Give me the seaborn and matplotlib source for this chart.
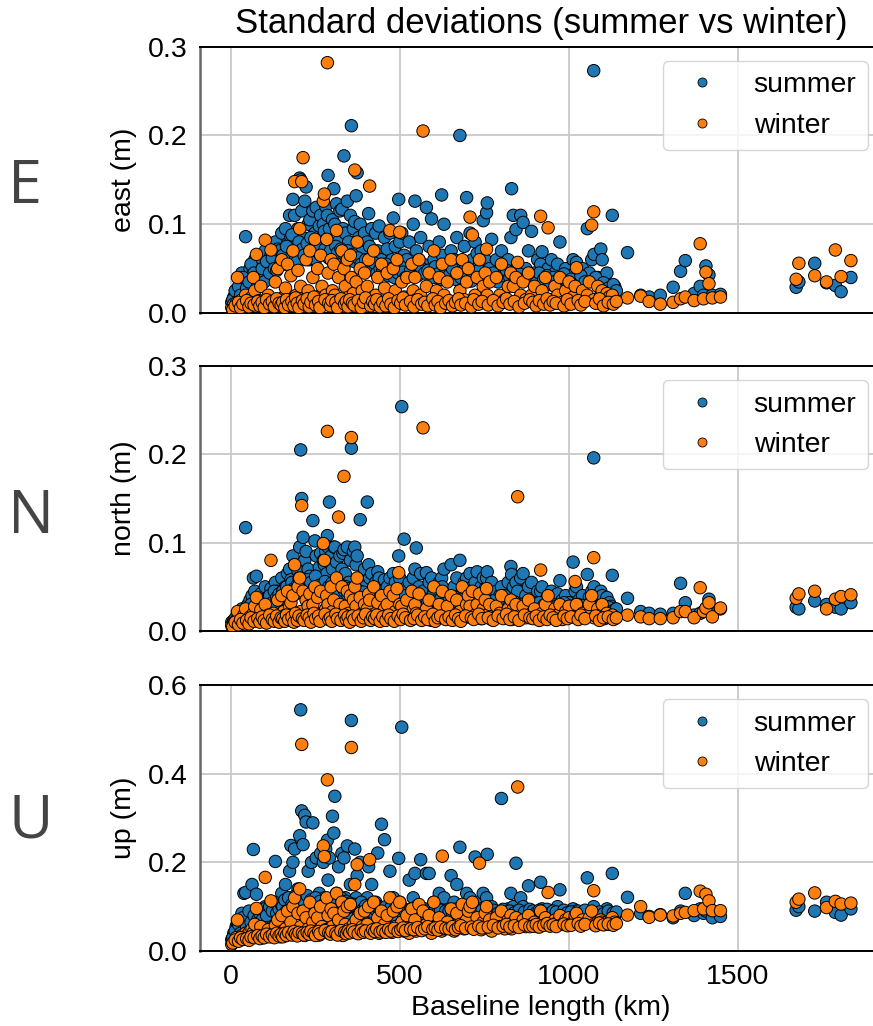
import matplotlib
matplotlib.use("Agg")
import matplotlib.pyplot as plt
import pandas as pd
import seaborn as sns
from matplotlib.lines import Line2D
from matplotlib.ticker import FormatStrFormatter

# ---------------- data ----------------
baseline_km = [
    2, 8, 15, 19, 25, 32, 38, 43, 50, 56,
    62, 66, 70, 75, 82, 88, 95, 101, 110, 118,
    125, 131, 138, 145, 150, 156, 161, 167, 173, 177,
    183, 188, 193, 198, 203, 206, 209, 213, 218, 222,
    228, 233, 238, 242, 248, 252, 256, 261, 265, 269,
    273, 276, 280, 283, 285, 287, 291, 296, 300, 304,
    307, 312, 318, 322, 328, 331, 334, 338, 344, 348,
    353, 356, 362, 366, 370, 373, 378, 382, 388, 395,
    403, 407, 410, 416, 422, 428, 434, 438, 445, 454,
    462, 470, 476, 480, 486, 491, 496, 499, 505, 512,
    520, 527, 535, 539, 544, 548, 556, 561, 568, 578,
    586, 593, 600, 608, 616, 623, 625, 630, 640, 651,
    660, 668, 677, 684, 690, 697, 702, 707, 714, 722,
    728, 735, 740, 746, 752, 756, 758, 765, 771, 785,
    795, 800, 810, 820, 828, 830, 835, 843, 848, 857,
    864, 872, 880, 889, 898, 907, 916, 920, 930, 938,
    948, 958, 966, 973, 980, 990, 1000, 1012, 1018, 1022,
    1030, 1040, 1054, 1060, 1067, 1073, 1074, 1085, 1094, 1098,
    1105, 1112, 1119, 1124, 1128, 1135, 1173, 1212, 1237, 1270,
    1308, 1330, 1344, 1370, 1388, 1398, 1405, 1414, 1424, 1448,
    1672, 1680, 1727, 1762, 1788, 1805, 1834,
    5, 12, 22, 28, 35, 46, 53, 59, 68, 79,
    85, 92, 98, 105, 114, 122, 128, 135, 142, 148,
    153, 159, 164, 170, 180, 186, 191, 196, 201, 211,
    216, 225, 231, 236, 245, 250, 259, 263, 278, 289,
    294, 298, 310, 315, 325, 336, 341, 346, 351, 359,
    364, 376, 385, 392, 398, 413, 419, 425, 431, 441,
    449, 458, 466, 473, 483, 494, 502, 509, 516, 531,
    541, 552, 564, 573, 582, 597, 604, 612, 620, 635,
    645, 655, 664, 673, 680, 694, 711, 718, 733, 743,
    761, 776, 790, 805, 815, 825, 838, 852, 868, 884,
    893, 903, 912, 925, 935, 944, 953, 962, 985, 995,
    1006, 1027, 1035, 1047, 1079, 1090, 1102, 1116, 1131, 1140,
]

east_summer = [
    .012, .018, .022, .021, .030, .045, .035, .086, .040, .050,
    .055, .047, .060, .052, .038, .062, .045, .070, .058, .065,
    .060, .080, .072, .055, .090, .065, .095, .078, .110, .085,
    .128, .110, .070, .095, .152, .150, .115, .085, .126, .142,
    .100, .105, .080, .115, .090, .119, .075, .098, .110, .085,
    .100, .092, .120, .083, .110, .155, .095, .070, .105, .140,
    .100, .123, .081, .115, .117, .095, .177, .090, .126, .080,
    .110, .211, .095, .103, .132, .158, .085, .100, .070, .090,
    .080, .112, .075, .095, .065, .090, .070, .098, .060, .085,
    .072, .090, .060, .107, .075, .055, .128, .080, .090, .065,
    .060, .080, .050, .100, .126, .070, .060, .085, .055, .119,
    .075, .106, .060, .050, .080, .133, .065, .100, .055, .070,
    .060, .085, .200, .055, .075, .130, .050, .090, .060, .080,
    .067, .055, .070, .104, .060, .113, .124, .050, .083, .060,
    .045, .070, .050, .060, .085, .140, .110, .094, .055, .110,
    .102, .050, .070, .092, .045, .060, .055, .069, .040, .050,
    .060, .045, .055, .080, .040, .050, .035, .060, .045, .057,
    .040, .050, .095, .045, .060, .273, .066, .040, .072, .060,
    .035, .045, .031, .025, .110, .030, .068, .020, .018, .020,
    .029, .047, .059, .022, .030, .020, .053, .043, .020, .021,
    .029, .035, .056, .034, .031, .024, .040,
    .015, .025, .030, .020, .040, .028, .035, .055, .045, .032,
    .040, .050, .035, .058, .045, .062, .050, .048, .070, .058,
    .065, .055, .075, .060, .088, .070, .062, .058, .080, .072,
    .065, .078, .060, .085, .070, .060, .068, .075, .072, .062,
    .070, .060, .075, .068, .072, .065, .058, .070, .060, .066,
    .058, .062, .055, .050, .060, .052, .048, .056, .045, .050,
    .048, .055, .042, .050, .040, .045, .052, .046, .040, .048,
    .055, .042, .050, .045, .048, .040, .052, .044, .038, .046,
    .042, .050, .038, .045, .040, .052, .036, .044, .048, .040,
    .038, .045, .035, .042, .048, .040, .036, .044, .038, .042,
    .040, .034, .045, .038, .042, .032, .040, .036, .044, .035,
    .038, .032, .042, .035, .040, .030, .034, .028, .032, .025,
]

east_winter = [
    .006, .010, .011, .040, .013, .015, .009, .020, .012, .016,
    .018, .040, .025, .066, .014, .030, .011, .082, .020, .071,
    .013, .035, .050, .012, .060, .018, .028, .055, .015, .042,
    .070, .148, .020, .048, .095, .030, .148, .175, .012, .060,
    .025, .070, .013, .040, .083, .018, .050, .010, .065, .030,
    .126, .134, .020, .083, .282, .045, .012, .060, .025, .055,
    .020, .093, .040, .015, .070, .010, .050, .030, .060, .018,
    .065, .040, .022, .161, .035, .080, .012, .050, .025, .045,
    .030, .060, .143, .015, .070, .020, .040, .012, .055, .028,
    .045, .093, .015, .050, .025, .060, .012, .091, .035, .018,
    .040, .012, .055, .025, .040, .015, .060, .020, .205, .030,
    .045, .012, .070, .025, .040, .015, .055, .020, .035, .060,
    .012, .045, .025, .060, .015, .035, .050, .108, .088, .020,
    .040, .060, .013, .030, .045, .072, .020, .035, .012, .040,
    .020, .055, .015, .030, .045, .012, .030, .040, .057, .020,
    .035, .015, .045, .020, .030, .012, .109, .025, .040, .096,
    .015, .030, .020, .040, .012, .025, .035, .018, .030, .051,
    .012, .025, .020, .035, .099, .114, .015, .030, .020, .025,
    .012, .022, .018, .015, .020, .012, .017, .019, .013, .010,
    .012, .016, .018, .014, .078, .016, .046, .033, .017, .018,
    .038, .056, .042, .035, .071, .041, .059,
    .004, .008, .012, .006, .010, .014, .007, .011, .009, .013,
    .008, .012, .006, .015, .010, .013, .007, .016, .011, .009,
    .012, .006, .015, .009, .013, .008, .017, .011, .006, .014,
    .010, .016, .007, .012, .018, .009, .013, .006, .015, .011,
    .008, .014, .012, .006, .016, .010, .013, .007, .015, .011,
    .009, .014, .006, .012, .017, .008, .013, .010, .015, .007,
    .012, .008, .016, .010, .006, .014, .011, .017, .009, .013,
    .007, .015, .010, .012, .008, .016, .009, .013, .006, .011,
    .014, .008, .012, .016, .009, .011, .007, .015, .010, .013,
    .009, .014, .008, .012, .016, .010, .013, .007, .011, .015,
    .012, .008, .014, .010, .016, .009, .013, .011, .008, .015,
    .010, .014, .009, .013, .011, .016, .008, .012, .010, .013,
]

north_summer = [
    .010, .012, .015, .020, .018, .025, .022, .117, .030, .035,
    .040, .060, .045, .062, .028, .042, .035, .050, .038, .048,
    .040, .055, .045, .030, .060, .042, .050, .065, .070, .058,
    .085, .075, .048, .068, .095, .205, .150, .106, .080, .090,
    .070, .062, .055, .125, .102, .085, .060, .072, .088, .050,
    .080, .075, .090, .065, .108, .095, .146, .085, .070, .095,
    .095, .078, .060, .085, .070, .088, .092, .065, .095, .055,
    .080, .207, .090, .095, .075, .085, .060, .126, .050, .070,
    .146, .075, .060, .065, .050, .055, .067, .060, .045, .058,
    .050, .060, .045, .065, .055, .040, .085, .060, .254, .104,
    .050, .055, .045, .060, .070, .094, .050, .065, .045, .066,
    .055, .060, .045, .040, .055, .060, .050, .070, .040, .075,
    .050, .060, .080, .045, .055, .060, .040, .065, .050, .055,
    .067, .045, .050, .060, .048, .060, .067, .040, .055, .045,
    .040, .050, .040, .055, .073, .064, .050, .055, .045, .060,
    .065, .040, .050, .055, .035, .045, .045, .050, .035, .040,
    .045, .038, .042, .057, .035, .040, .032, .078, .045, .050,
    .035, .040, .064, .038, .045, .196, .050, .035, .045, .040,
    .030, .038, .032, .028, .063, .025, .037, .022, .020, .019,
    .020, .054, .032, .018, .020, .022, .025, .036, .020, .025,
    .027, .025, .034, .030, .027, .025, .032,
    .008, .014, .018, .012, .022, .016, .025, .030, .020, .028,
    .030, .025, .035, .028, .040, .032, .045, .038, .042, .035,
    .045, .040, .050, .038, .055, .048, .042, .052, .060, .046,
    .050, .058, .045, .055, .048, .062, .044, .052, .056, .050,
    .046, .054, .048, .042, .052, .045, .050, .040, .048, .044,
    .040, .046, .038, .044, .036, .042, .034, .040, .035, .038,
    .036, .032, .040, .034, .038, .030, .036, .033, .040, .035,
    .034, .038, .030, .036, .032, .040, .034, .030, .036, .032,
    .035, .030, .038, .032, .036, .030, .034, .028, .035, .032,
    .030, .034, .028, .032, .035, .030, .033, .028, .031, .034,
    .030, .027, .032, .029, .031, .026, .030, .028, .032, .027,
    .028, .030, .026, .029, .025, .028, .024, .027, .023, .025,
]

north_winter = [
    .006, .009, .012, .022, .010, .014, .018, .025, .011, .016,
    .013, .020, .028, .038, .012, .024, .015, .030, .018, .080,
    .020, .016, .035, .012, .040, .022, .018, .045, .028, .032,
    .040, .075, .015, .050, .060, .022, .142, .045, .013, .035,
    .028, .042, .018, .030, .050, .014, .038, .012, .045, .020,
    .099, .080, .025, .040, .226, .030, .015, .050, .022, .035,
    .018, .060, .129, .030, .050, .013, .175, .028, .045, .020,
    .040, .219, .035, .050, .028, .060, .015, .038, .020, .030,
    .025, .042, .035, .018, .050, .020, .032, .012, .040, .025,
    .030, .045, .015, .040, .022, .048, .066, .030, .028, .018,
    .035, .014, .045, .025, .030, .020, .042, .018, .230, .025,
    .035, .012, .050, .020, .030, .016, .045, .018, .028, .040,
    .014, .035, .022, .050, .015, .030, .040, .028, .045, .018,
    .030, .042, .014, .025, .035, .048, .018, .030, .013, .028,
    .020, .040, .015, .025, .035, .013, .025, .030, .152, .018,
    .028, .015, .035, .020, .025, .014, .069, .020, .030, .040,
    .015, .025, .018, .030, .013, .022, .028, .016, .056, .030,
    .014, .020, .018, .030, .040, .083, .015, .025, .018, .030,
    .014, .020, .016, .015, .018, .014, .018, .016, .014, .014,
    .015, .022, .022, .015, .049, .022, .026, .032, .016, .026,
    .037, .042, .045, .025, .036, .039, .041,
    .005, .010, .007, .013, .009, .012, .008, .015, .011, .014,
    .010, .016, .012, .009, .018, .013, .011, .017, .010, .015,
    .014, .011, .018, .013, .016, .010, .020, .012, .017, .014,
    .012, .018, .015, .010, .020, .014, .017, .011, .019, .013,
    .015, .011, .019, .014, .012, .018, .013, .016, .010, .017,
    .013, .017, .011, .015, .019, .012, .016, .014, .018, .011,
    .016, .012, .018, .014, .011, .017, .013, .019, .015, .012,
    .014, .018, .012, .016, .013, .019, .011, .015, .017, .013,
    .016, .012, .018, .014, .011, .017, .015, .013, .019, .014,
    .015, .012, .017, .014, .019, .013, .016, .012, .018, .015,
    .014, .017, .012, .016, .013, .018, .015, .012, .017, .014,
    .016, .013, .018, .014, .017, .012, .015, .016, .013, .015,
]

up_summer = [
    .026, .040, .055, .060, .045, .085, .130, .132, .065, .050,
    .150, .229, .080, .128, .060, .090, .070, .100, .075, .110,
    .075, .202, .095, .070, .130, .085, .150, .100, .180, .238,
    .200, .230, .110, .140, .260, .544, .316, .240, .306, .291,
    .180, .110, .200, .289, .095, .210, .080, .130, .220, .100,
    .200, .120, .230, .090, .250, .160, .210, .085, .304, .266,
    .349, .130, .190, .110, .220, .090, .210, .120, .237, .080,
    .150, .520, .100, .230, .120, .170, .085, .200, .075, .110,
    .120, .190, .090, .150, .080, .110, .221, .100, .286, .251,
    .095, .180, .075, .120, .090, .070, .209, .110, .505, .085,
    .070, .160, .080, .120, .175, .100, .075, .206, .090, .175,
    .175, .090, .110, .075, .130, .100, .080, .120, .070, .170,
    .110, .150, .234, .080, .100, .130, .075, .120, .085, .212,
    .110, .080, .095, .130, .075, .120, .218, .070, .100, .085,
    .075, .344, .080, .095, .130, .085, .100, .198, .090, .120,
    .100, .080, .147, .090, .075, .085, .155, .095, .070, .085,
    .080, .075, .100, .138, .070, .085, .070, .095, .080, .090,
    .075, .080, .165, .070, .085, .100, .080, .070, .085, .075,
    .085, .095, .080, .075, .175, .080, .121, .085, .078, .082,
    .075, .090, .130, .080, .095, .085, .090, .100, .075, .078,
    .092, .100, .090, .110, .087, .081, .095,
    .030, .045, .060, .040, .075, .055, .090, .065, .080, .070,
    .085, .070, .095, .080, .100, .090, .110, .085, .095, .105,
    .100, .115, .090, .120, .105, .095, .125, .110, .100, .118,
    .110, .125, .095, .115, .105, .120, .100, .112, .108, .118,
    .115, .100, .110, .095, .120, .105, .112, .098, .108, .102,
    .105, .098, .110, .095, .102, .090, .108, .095, .100, .092,
    .095, .100, .088, .098, .092, .102, .090, .096, .088, .094,
    .092, .098, .085, .095, .090, .088, .094, .086, .092, .090,
    .090, .085, .094, .088, .092, .086, .090, .095, .088, .092,
    .088, .092, .085, .094, .088, .090, .086, .092, .088, .094,
    .090, .086, .092, .088, .094, .085, .090, .088, .092, .086,
    .088, .090, .085, .092, .086, .088, .084, .090, .086, .088,
]

up_winter = [
    .015, .020, .030, .070, .028, .035, .032, .040, .038, .045,
    .050, .042, .060, .096, .035, .055, .030, .166, .048, .113,
    .040, .058, .070, .032, .080, .045, .050, .090, .038, .065,
    .100, .120, .042, .085, .140, .055, .466, .090, .035, .075,
    .050, .110, .040, .065, .085, .045, .075, .036, .100, .055,
    .237, .213, .048, .120, .386, .080, .040, .095, .055, .085,
    .045, .130, .070, .042, .110, .035, .090, .060, .100, .050,
    .105, .459, .060, .150, .070, .195, .040, .085, .055, .090,
    .060, .100, .206, .045, .110, .050, .075, .040, .090, .060,
    .080, .120, .042, .090, .055, .100, .050, .110, .065, .045,
    .080, .040, .095, .055, .070, .045, .105, .050, .090, .060,
    .080, .040, .110, .055, .075, .045, .214, .050, .065, .095,
    .045, .085, .060, .105, .050, .070, .090, .100, .110, .055,
    .075, .198, .048, .065, .085, .100, .055, .070, .045, .075,
    .055, .090, .050, .070, .080, .050, .065, .075, .370, .060,
    .070, .055, .080, .060, .065, .055, .090, .065, .075, .132,
    .060, .070, .065, .080, .060, .070, .075, .065, .080, .085,
    .060, .070, .065, .075, .090, .136, .060, .065, .070, .065,
    .060, .065, .060, .070, .075, .065, .081, .100, .076, .081,
    .079, .085, .087, .091, .135, .095, .128, .113, .091, .091,
    .110, .117, .131, .098, .112, .106, .108,
    .018, .025, .022, .030, .026, .028, .024, .032, .030, .035,
    .028, .034, .030, .038, .032, .036, .030, .040, .034, .038,
    .032, .040, .035, .042, .036, .044, .038, .034, .042, .040,
    .036, .042, .038, .045, .040, .035, .044, .039, .046, .041,
    .038, .044, .040, .036, .046, .042, .039, .045, .041, .048,
    .043, .039, .047, .042, .045, .040, .048, .044, .050, .043,
    .046, .042, .049, .045, .051, .044, .048, .052, .046, .050,
    .048, .053, .046, .050, .055, .049, .052, .047, .054, .051,
    .050, .055, .048, .053, .057, .051, .054, .049, .056, .052,
    .054, .058, .052, .056, .060, .054, .057, .053, .059, .055,
    .056, .060, .054, .058, .062, .056, .059, .055, .061, .057,
    .058, .062, .056, .060, .057, .063, .059, .061, .058, .062,
]

seasons = ["summer", "winter"]
season_colors = ["#1f77b4", "#ff7f0e"]
panel_letters = ["E", "N", "U"]
panel_ylabels = ["east (m)", "north (m)", "up (m)"]
panel_series = [(east_summer, east_winter), (north_summer, north_winter), (up_summer, up_winter)]
panel_yticks = [[0.0, 0.1, 0.2, 0.3], [0.0, 0.1, 0.2, 0.3], [0.0, 0.2, 0.4, 0.6]]
x_ticks = [0, 500, 1000, 1500]
title = "Standard deviations (summer vs winter)"
xlabel = "Baseline length (km)"

n = len(baseline_km)
for arr in (east_summer, east_winter, north_summer, north_winter, up_summer, up_winter):
    assert len(arr) == n, len(arr)

# ---------------- styling ----------------
sns.set_style("whitegrid")
plt.rcParams["font.family"] = ["Liberation Sans", "DejaVu Sans"]
plt.rcParams["text.color"] = "black"
plt.rcParams["axes.labelcolor"] = "black"
plt.rcParams["xtick.color"] = "black"
plt.rcParams["ytick.color"] = "black"

W, H = 873, 1026
fig = plt.figure(figsize=(W / 100, H / 100), dpi=100)

def px_box(left, top, right, bottom):
    return [left / W, 1 - bottom / H, (right - left) / W, (bottom - top) / H]

boxes = [(200, 46.7, 882, 313), (200, 366, 882, 631), (200, 685, 882, 951)]
letter_y = [187, 517, 822]
palette = dict(zip(seasons, season_colors))

axes = []
for i, (box, (s_vals, w_vals)) in enumerate(zip(boxes, panel_series)):
    ax = fig.add_axes(px_box(*box))
    axes.append(ax)
    df = pd.DataFrame({
        "baseline": baseline_km * 2,
        "value": list(s_vals) + list(w_vals),
        "season": ["summer"] * n + ["winter"] * n,
    })
    sns.scatterplot(data=df, x="baseline", y="value", hue="season", hue_order=seasons,
                    palette=palette, s=80, edgecolor="black", linewidth=0.7,
                    legend=False, ax=ax, zorder=3)
    ax.set_axisbelow(True)
    ax.grid(True, color="#c9c9c9", linewidth=1.3)
    ax.set_xlim(-92, 1926)
    yt = panel_yticks[i]
    ax.set_ylim(yt[0], yt[-1])
    ax.set_yticks(yt)
    ax.yaxis.set_major_formatter(FormatStrFormatter("%.1f"))
    ax.set_xticks(x_ticks)
    ax.tick_params(axis="both", length=5, width=1.2, direction="out",
                   labelsize=20.5, pad=4, colors="black")
    ax.tick_params(axis="x", color="#555555")
    for side in ("top", "bottom", "right"):
        ax.spines[side].set_visible(True)
        ax.spines[side].set_color("black")
        ax.spines[side].set_linewidth(1.4)
    ax.spines["left"].set_visible(True)
    ax.spines["left"].set_color("#666666")
    ax.spines["left"].set_linewidth(1.8)
    ax.set_ylabel(panel_ylabels[i], fontsize=20.5, labelpad=8)
    if i < 2:
        ax.set_xlabel("")
        ax.tick_params(axis="x", labelbottom=False)
    else:
        ax.set_xlabel(xlabel, fontsize=20.5, labelpad=4)
    handles = [Line2D([0], [0], marker="o", linestyle="", markerfacecolor=c,
                      markeredgecolor="black", markeredgewidth=0.6, markersize=6.5)
               for c in season_colors]
    leg = ax.legend(handles, seasons, loc="upper right", fontsize=20.5, frameon=True,
                    framealpha=0.8, edgecolor="0.8", fancybox=True)
    leg.get_frame().set_linewidth(1.0)
    fig.text(8 / W, 1 - letter_y[i] / H, panel_letters[i], fontsize=44,
             family=["Open Sans", "DejaVu Sans"], color="#444444",
             ha="left", va="center")

axes[0].set_title(title, fontsize=25, pad=10)

fig.savefig("out.png", dpi=100)
